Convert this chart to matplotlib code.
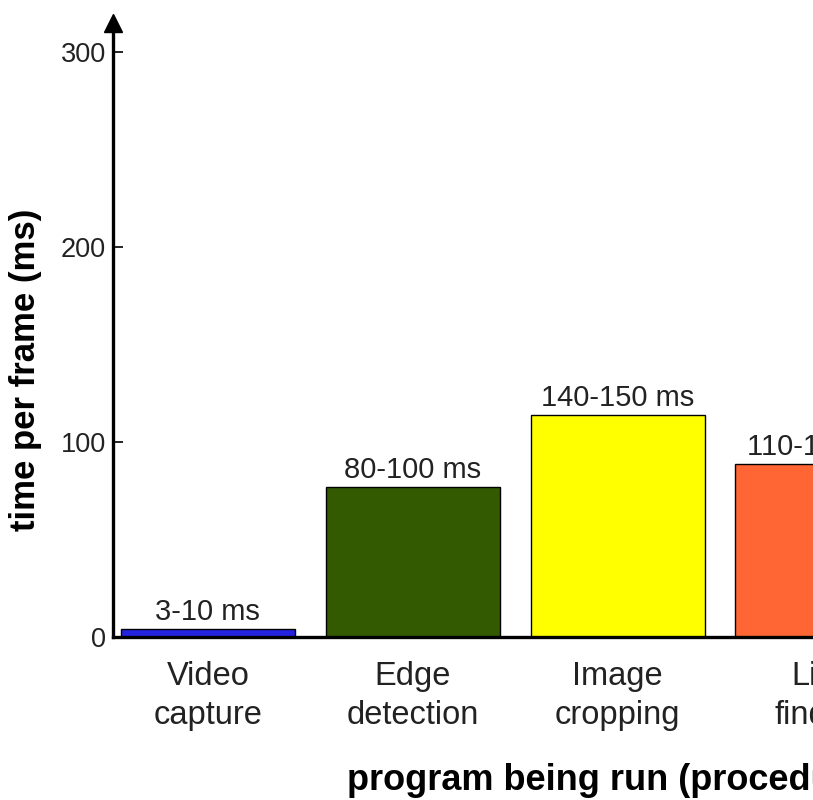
import matplotlib
matplotlib.use("Agg")
import matplotlib.pyplot as plt

# values (bar heights in ms)
categories = ["Video\ncapture", "Edge\ndetection", "Image\ncropping", "Line\nfinding"]
times = [4, 77, 114, 89]
bar_labels = ["3-10 ms", "80-100 ms", "140-150 ms", "110-120 ms"]
colors = ["#2323e0", "#335a00", "#ffff00", "#ff6633"]
yticks = [0, 100, 200, 300]

plt.rcParams['font.family'] = ['Liberation Sans', 'DejaVu Sans']

fig = plt.figure(figsize=(8.13, 8.0), dpi=100)
# axes runs past the right edge, the reference is cropped there
ax = fig.add_axes([113 / 813, 163 / 800, 812 / 813, 614 / 800])

x = list(range(len(categories)))
bars = ax.bar(x, times, width=0.85, color=colors, edgecolor="black", linewidth=1.0)
ax.bar_label(bars, labels=bar_labels, padding=2, fontsize=21, color="#222222")

ax.set_xlim(-0.463, 3.5)
ax.set_ylim(0, 315)
ax.set_yticks(yticks)
ax.set_yticklabels([str(t) for t in yticks], fontsize=19.5, color="#222222")
ax.tick_params(axis='y', direction='in', length=7, width=1.2, pad=5)
ax.set_xticks(x)
ax.set_xticklabels(categories, fontsize=23.5, color="#222222", linespacing=1.35)
ax.tick_params(axis='x', length=0, pad=17)

for s in ["top", "right"]:
    ax.spines[s].set_visible(False)
ax.spines["left"].set_linewidth(2.4)
ax.spines["bottom"].set_linewidth(2.4)

# arrow head on top of the y axis
ax.plot(0, 1.0, marker="^", markersize=13, color="black", transform=ax.transAxes, clip_on=False)

fig.text(26 / 813, 1 - 370 / 800, "time per frame (ms)", rotation=90, fontsize=25,
         fontweight="bold", ha="center", va="center")
fig.text(347 / 813, 1 - 781 / 800, "program being run (procedure)", fontsize=26,
         fontweight="bold", ha="left", va="center")

fig.savefig("out.png", dpi=100)
